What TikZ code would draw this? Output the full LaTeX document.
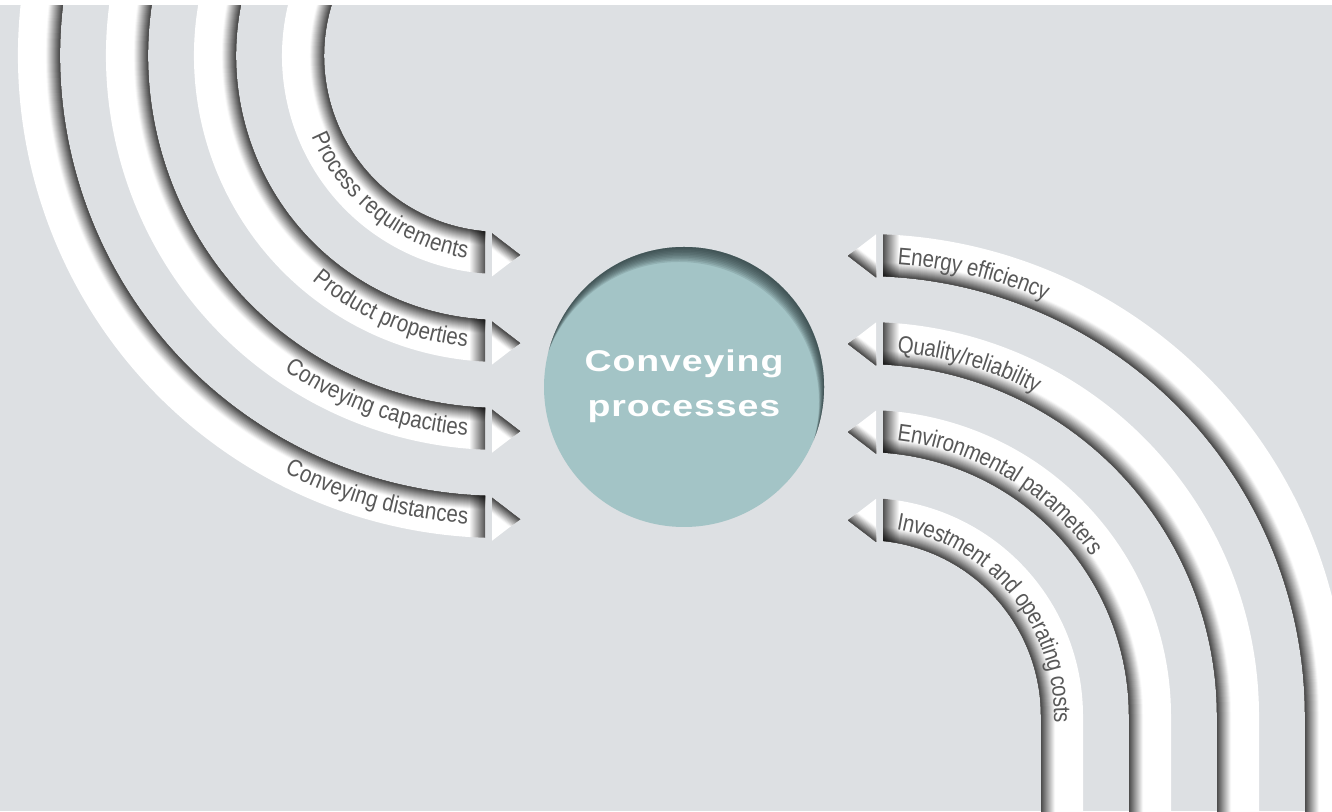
\documentclass[tikz,border=0pt]{standalone}
\usepackage{fontspec}
\usetikzlibrary{decorations.text,calc}
\newfontfamily\bandfont{Liberation Sans}[FakeStretch=0.85]
\newfontfamily\circfont{Liberation Sans}[FakeStretch=1.25,LetterSpace=3]
\definecolor{bg}{RGB}{221,224,227}
\definecolor{circcol}{RGB}{163,196,198}
\definecolor{circshade}{RGB}{38,52,54}
\definecolor{txt}{RGB}{88,88,88}
\newcommand\bandstyle{\bandfont\fontsize{24}{28}\selectfont}

% left band: #1 radius of centre line, #2 label
\newcommand\leftband[2]{%
  \pgfmathsetmacro\myYe{755-#1*sqrt(1-(15/#1)*(15/#1))}%
  \pgfmathsetmacro\myTe{270-asin(15/#1)}%
  \pgfmathsetmacro\myRo{#1+21}%
  \pgfmathsetmacro\myRi{#1-21}%
  \begin{scope}
    \clip (-5,-5) rectangle (485,806);
    \draw[white, line width=42] ($(CL)+(150:#1)$) arc[start angle=150, end angle=275, radius=#1];
    \foreach \w in {14,13,...,1}{
      \pgfmathsetmacro\myF{72*(1-(\w-0.5)/14)}
      \pgfmathsetmacro\myR{#1-21+\w/2}
      \draw[line width=\w, color=black!\myF!white] ($(CL)+(150:\myR)$) arc[start angle=150, end angle=275, radius=\myR];
    }
    \begin{scope}
      \clip ($(CL)+(245:\myRo)$) arc[start angle=245, end angle=275, radius=\myRo] -- ($(CL)+(275:\myRi)$) arc[start angle=275, end angle=245, radius=\myRi] -- cycle;
      \shade[left color=white, right color=black!72!white, blend mode=multiply] (469,{\myYe-30}) rectangle (486,{\myYe+30});
    \end{scope}
  \end{scope}
  \path[decorate, decoration={text along path, text={|\bandstyle|#2}, text color=txt, text align={right, right indent=17pt}, raise=-8pt}]
    ($(CL)+(150:#1)$) arc[start angle=150, end angle=\myTe, radius=#1];
  \pgfmathsetmacro\myYc{\myYe-2.5}%
  \begin{scope}
    \clip (492,{\myYc+21.5}) -- (492,{\myYc-21.5}) -- (520,\myYc) -- cycle;
    \fill[white] (480,{\myYc-30}) rectangle (530,{\myYc+30});
    \foreach \w in {12,11,...,1}{
      \pgfmathsetmacro\myF{72*(1-(\w-0.5)/12)}
      \pgfmathsetmacro\myLw{2*\w}
      \draw[line width=\myLw, color=black!\myF!white] (478,{\myYc+32.25}) -- (534,{\myYc-10.75});
    }
  \end{scope}
}

% right band: #1 radius of centre line, #2 label
\newcommand\rightband[2]{%
  \pgfmathsetmacro\myYs{95+#1*sqrt(1-(18/#1)*(18/#1))}%
  \pgfmathsetmacro\myTs{acos(18/#1)}%
  \pgfmathsetmacro\myRo{#1+21}%
  \pgfmathsetmacro\myRi{#1-21}%
  \begin{scope}
    \clip (883,-5) rectangle (1340,806);
    \draw[white, line width=42] ($(CR)+(95:#1)$) arc[start angle=95, end angle=0, radius=#1] -- ++(0,-250);
    \foreach \w in {14,13,...,1}{
      \pgfmathsetmacro\myF{72*(1-(\w-0.5)/14)}
      \pgfmathsetmacro\myR{#1-21+\w/2}
      \draw[line width=\w, color=black!\myF!white] ($(CR)+(95:\myR)$) arc[start angle=95, end angle=0, radius=\myR] -- ++(0,-250);
    }
    \begin{scope}
      \clip ($(CR)+(95:\myRo)$) arc[start angle=95, end angle=70, radius=\myRo] -- ($(CR)+(70:\myRi)$) arc[start angle=70, end angle=95, radius=\myRi] -- cycle;
      \shade[left color=black!72!white, right color=white, blend mode=multiply] (882,{\myYs-30}) rectangle (899,{\myYs+30});
    \end{scope}
  \end{scope}
  \path[decorate, decoration={text along path, text={|\bandstyle|#2}, text color=txt, text align={left, left indent=15pt}, raise=-8pt}]
    ($(CR)+(\myTs:#1)$) arc[start angle=\myTs, end angle=0, radius=#1] -- ++(0,-300);
  \pgfmathsetmacro\myYc{\myYs-0.5}%
  \begin{scope}
    \clip (876,{\myYc+21.5}) -- (876,{\myYc-21.5}) -- (848,\myYc) -- cycle;
    \fill[white] (840,{\myYc-30}) rectangle (885,{\myYc+30});
    \foreach \w in {12,11,...,1}{
      \pgfmathsetmacro\myF{72*(1-(\w-0.5)/12)}
      \pgfmathsetmacro\myLw{2*\w}
      \draw[line width=\myLw, color=black!\myF!white] (834,{\myYc+10.75}) -- (890,{\myYc-32.25});
    }
  \end{scope}
}

\begin{document}
\begin{tikzpicture}[x=1pt,y=1pt]
  \useasboundingbox (0,0) rectangle (1332,811);
  \fill[bg] (0,0) rectangle (1332,811);
  \coordinate (CL) at (500,755);
  \coordinate (CR) at (865,95);

  \leftband{197}{Process requirements}
  \leftband{285}{Product properties}
  \leftband{373}{Conveying capacities}
  \leftband{461}{Conveying distances}

  \rightband{461}{Energy efficiency}
  \rightband{373}{Quality/reliability}
  \rightband{285}{Environmental parameters}
  \rightband{197}{Investment and operating costs}

  % central circle
  \node[circle, fill=circcol, minimum size=280, inner sep=0] (disc) at (684,424) {};
  \begin{scope}
    \clip (disc.center) circle[radius=140];
    \foreach \k in {1,...,10}{
      \fill[circshade, opacity=0.13, even odd rule] (disc.center) circle[radius=150]
        ($(disc.center)+({-0.5*\k},{-1.5*\k})$) circle[radius=140];
    }
  \end{scope}
  \node[text=white, align=center, font=\circfont\bfseries\fontsize{30}{45}\selectfont] (conv) at ([yshift=1]disc.center) {Conveying\\processes};

  \fill[white] (0,806) rectangle (1332,811);
\end{tikzpicture}
\end{document}
